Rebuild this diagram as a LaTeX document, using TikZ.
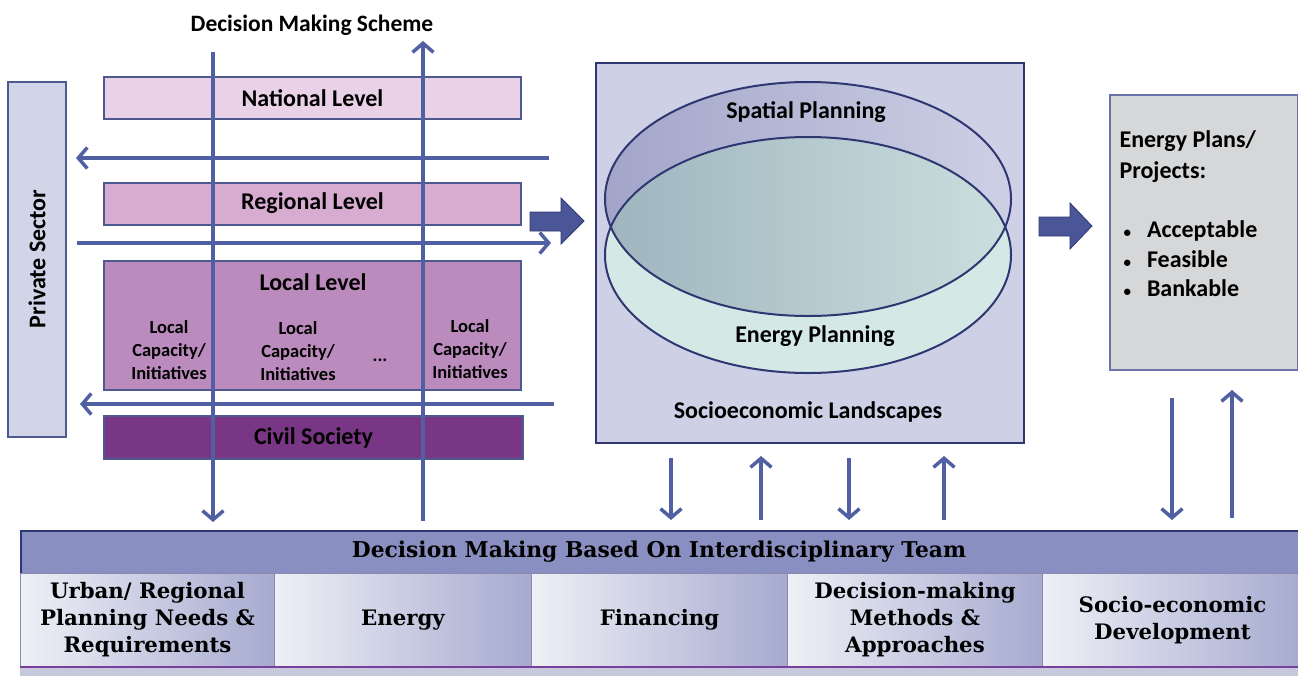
\documentclass[tikz,border=0pt]{standalone}
\usepackage{fontspec}
\setmainfont{Carlito}
\newfontfamily\serifb{DejaVu Serif}
\usetikzlibrary{arrows.meta,shapes.geometric,calc}
\definecolor{lineblue}{HTML}{5160A3}
\definecolor{borderc}{HTML}{4E5A8E}
\definecolor{darkb}{HTML}{2F3772}
\definecolor{privfill}{HTML}{D2D5E8}
\definecolor{natfill}{HTML}{E9D2E7}
\definecolor{regfill}{HTML}{D8ABD0}
\definecolor{locfill}{HTML}{BB8BBD}
\definecolor{civfill}{HTML}{793684}
\definecolor{mainfill}{HTML}{CED0E5}
\definecolor{spatL}{HTML}{A2A5C8}
\definecolor{spatR}{HTML}{CDD0E5}
\definecolor{mint}{HTML}{D4E9E5}
\definecolor{ovL}{HTML}{9EB5BF}
\definecolor{ovR}{HTML}{CADFDD}
\definecolor{rightfill}{HTML}{D6D7D9}
\definecolor{rightborder}{HTML}{6A74A8}
\definecolor{blockfill}{HTML}{4A5698}
\definecolor{headfill}{HTML}{8A8FC1}
\definecolor{cellL}{HTML}{EEF0F6}
\definecolor{cellR}{HTML}{A6AACF}
\definecolor{stripfill}{HTML}{C6C8DB}
\definecolor{stripline}{HTML}{7A3F9C}
\tikzset{
  sansb/.style={font=\fontsize{24}{29}\selectfont\bfseries},
  smallb/.style={font=\fontsize{18.5}{23}\selectfont\bfseries, align=center},
  levelbox/.style={draw=borderc, line width=2pt, minimum width=417pt, minimum height=42pt, inner sep=0pt, sansb},
  flow/.style={draw=lineblue, line width=3.5pt, -{Straight Barb[length=9pt,width=21pt]}},
  blockarrow/.style={fill=blockfill, draw=darkb, line width=0.8pt, line join=miter},
  cell/.style={draw=headfill!70!gray, line width=1pt, left color=cellL, right color=cellR, minimum height=93pt, inner sep=0pt, align=center, font=\serifb\fontsize{21.3}{27}\selectfont\bfseries},
  bul/.style={font=\fontsize{24}{29}\selectfont\bfseries, anchor=west},
}
\newcommand{\smbul}{{\fontsize{15}{15}\selectfont\textbullet}}
\begin{document}
\begin{tikzpicture}[x=1pt,y=-1pt]
\useasboundingbox (0,0) rectangle (1298,675);
\clip (0,0) rectangle (1298,675);
\fill[white] (0,0) rectangle (1298,675);

% title
\node[font=\fontsize{23.5}{28}\selectfont\bfseries] (title) at (312,25) {Decision Making Scheme};

% private sector
\node[draw=borderc, line width=2pt, fill=privfill, minimum width=58pt, minimum height=355pt, inner sep=0pt] (priv) at (37,259.5) {};
\node[sansb, rotate=90] (privt) at (37,259) {Private Sector};

% levels
\node[levelbox, fill=natfill] (nat) at (312.5,98) {National Level};
\node[levelbox, fill=regfill] (reg) at (312.5,203.5) {Regional Level};
\node[levelbox, fill=locfill, minimum height=129pt] (loc) at (312.5,325.5) {};
\node[levelbox, fill=civfill, minimum width=419pt, minimum height=43pt] (civ) at (313.5,437.5) {Civil Society};
\node[sansb] (loct) at (313,282) {Local Level};
\node[smallb] (lc1) at (169,350) {Local\\Capacity/\\Initiatives};
\node[smallb] (lc2) at (298,351) {Local\\Capacity/\\Initiatives};
\node[smallb] (lc3) at (470,349) {Local\\Capacity/\\Initiatives};
\node[smallb] (dots) at (380,360) {...};

% horizontal arrows
\coordinate (h1a) at (549,158); \coordinate (h1b) at (76,158);
\coordinate (h2a) at (77,243);  \coordinate (h2b) at (551,243);
\coordinate (h3a) at (554,404); \coordinate (h3b) at (80,404);
\draw[flow] (h1a) -- (h1b);
\draw[flow] (h2a) -- (h2b);
\draw[flow] (h3a) -- (h3b);

% main box
\node[draw=darkb, line width=2pt, fill=mainfill, minimum width=428pt, minimum height=380pt, inner sep=0pt] (main) at (810,253) {};
% spatial ellipse
\path[left color=spatL, right color=spatR] (808,199) ellipse [x radius=203, y radius=117];
% energy ellipse
\fill[mint] (808,255) ellipse [x radius=203, y radius=118];
\begin{scope}
  \clip (808,199) ellipse [x radius=203, y radius=117];
  \path[left color=ovL, right color=ovR] (808,255) ellipse [x radius=203, y radius=118];
\end{scope}
\draw[darkb, line width=2pt] (808,199) ellipse [x radius=203, y radius=117];
\draw[darkb, line width=2pt] (808,255) ellipse [x radius=203, y radius=118];
\node[sansb] (spat) at (806,112) {Spatial Planning};
\node[sansb] (enp) at (815,336) {Energy Planning};
\node[sansb] (soc) at (808,412) {Socioeconomic Landscapes};

% right box
\node[draw=rightborder, line width=2pt, fill=rightfill, minimum width=188pt, minimum height=275pt, inner sep=0pt] (res) at (1204,232.5) {};
\node[sansb, anchor=west, align=left] (respt) at (1116,157) {Energy Plans/\\[2pt]Projects:};
\node[bul] (b1) at (1120,231) {\smbul\hspace{16pt}Acceptable};
\node[bul] (b2) at (1120,259) {\smbul\hspace{16pt}Feasible};
\node[bul] (b3) at (1120,288) {\smbul\hspace{16pt}Bankable};

% block arrows
\filldraw[blockarrow] (530,212) -- (561,212) -- (561,198) -- (584,221) -- (561,244) -- (561,231) -- (530,231) -- cycle;
\filldraw[blockarrow] (1039,217) -- (1070,217) -- (1070,203) -- (1092,226) -- (1070,249) -- (1070,236) -- (1039,236) -- cycle;

% bottom section
\node[draw=darkb, line width=1.5pt, fill=headfill, minimum width=1282pt, minimum height=43pt, inner sep=0pt, anchor=north west] (head) at (20,530) {};
\node[font=\serifb\fontsize{21.8}{26}\selectfont\bfseries] (headt) at (659,552) {Decision Making Based On Interdisciplinary Team};
\node[cell, minimum width=254pt, anchor=north west] (c1) at (20,573) {Urban/ Regional\\Planning Needs \&\\Requirements};
\node[cell, minimum width=257pt, anchor=north west] (c2) at (274,573) {Energy};
\node[cell, minimum width=256pt, anchor=north west] (c3) at (531,573) {Financing};
\node[cell, minimum width=255pt, anchor=north west] (c4) at (787,573) {Decision-making\\Methods \&\\Approaches};
\node[cell, minimum width=260pt, anchor=north west] (c5) at (1042,573) {Socio-economic\\Development};
\fill[stripfill] (20,666) rectangle (1300,676);
\draw[stripline, line width=2pt] (20,667) -- (1300,667);

% vertical scheme arrows
\coordinate (v1a) at (213,52);  \coordinate (v1b) at (213,522);
\coordinate (v2a) at (423,521); \coordinate (v2b) at (423,41);
\draw[flow] (v1a) -- (v1b);
\draw[flow] (v2a) -- (v2b);

% arrows between main box / results and bottom
\coordinate (d1a) at (671,458); \coordinate (d1b) at (671,520);
\coordinate (u1a) at (761,520); \coordinate (u1b) at (761,456);
\coordinate (d2a) at (849,458); \coordinate (d2b) at (849,520);
\coordinate (u2a) at (944,520); \coordinate (u2b) at (944,456);
\draw[flow] (d1a) -- (d1b);
\draw[flow] (u1a) -- (u1b);
\draw[flow] (d2a) -- (d2b);
\draw[flow] (u2a) -- (u2b);
\coordinate (d3a) at (1172,398); \coordinate (d3b) at (1172,520);
\coordinate (u3a) at (1232,518); \coordinate (u3b) at (1232,390);
\draw[flow] (d3a) -- (d3b);
\draw[flow] (u3a) -- (u3b);
\end{tikzpicture}
\end{document}
